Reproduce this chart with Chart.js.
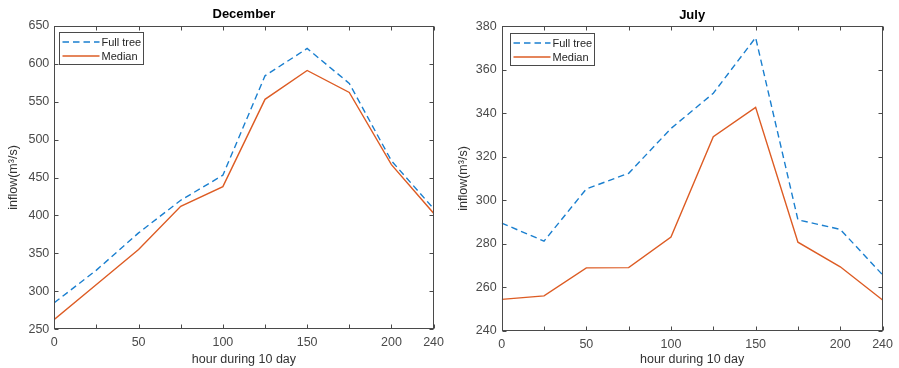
<!DOCTYPE html>
<html>
<head>
<meta charset="utf-8">
<script src="https://cdn.jsdelivr.net/npm/chart.js@4"></script>
<style>
  html, body { margin: 0; padding: 0; background: #fff; }
  #wrap { position: relative; width: 899px; height: 368px; }
  canvas { position: absolute; top: 0; }
</style>
</head>
<body>
<div id="wrap">
  <canvas id="decChart" width="450" height="368" style="left:0"></canvas>
  <canvas id="julChart" width="449" height="368" style="left:450px"></canvas>
</div>
<script>
// hours at each point; last one is labelled "240" on the axis
const hours = [0, 25, 50, 75, 100, 125, 150, 175, 200, 225];
const hourTickLabels = ["0", "", "50", "", "100", "", "150", "", "200", "240"];
const seriesNames = ["Full tree", "Median"];

const decFullTree = [285, 328, 377, 420, 453, 584, 620, 574, 472, 409];
const decMedian = [263, 309, 355, 412, 438, 553, 591, 562, 467, 403];

const julFullTree = [289.5, 281.2, 305.2, 312.4, 333, 349.2, 374.8, 291, 286.6, 265.7];
const julMedian = [254.4, 256, 268.9, 269, 283.1, 329.2, 342.7, 280.7, 269.4, 254.1];

const FONT = "'Liberation Sans', Arial, Helvetica, sans-serif";
const AXIS_COLOR = "#4a4a4a";
const BLUE = "#1a7fcf";
const ORANGE = "#dd5c24";

// box around the axes with inward tick marks on all four sides, plus boxed legend
const matlabAxesPlugin = {
  id: "matlabAxes",
  afterDatasetsDraw(chart, args, opts) {
    const { ctx, chartArea: a, scales } = chart;
    const L = Math.round(a.left) + 0.5;
    const R = Math.round(a.right) - 0.5;
    const T = Math.round(a.top) + 0.5;
    const B = Math.round(a.bottom) - 0.5;
    ctx.save();
    ctx.strokeStyle = AXIS_COLOR;
    ctx.lineWidth = 1;
    ctx.beginPath();
    scales.x.ticks.forEach((t) => {
      const px = Math.round(scales.x.getPixelForValue(t.value)) + 0.5;
      ctx.moveTo(px, B); ctx.lineTo(px, B - 4);
      ctx.moveTo(px, T); ctx.lineTo(px, T + 4);
    });
    scales.y.ticks.forEach((t) => {
      const py = Math.round(scales.y.getPixelForValue(t.value)) + 0.5;
      ctx.moveTo(L, py); ctx.lineTo(L + 4, py);
      ctx.moveTo(R, py); ctx.lineTo(R - 4, py);
    });
    ctx.stroke();
    ctx.strokeRect(L, T, R - L, B - T);

    // legend
    const lx = Math.round(a.left + opts.dx) + 0.5;
    const ly = Math.round(a.top + opts.dy) + 0.5;
    const lw = 84, lh = 32;
    ctx.fillStyle = "#fff";
    ctx.fillRect(lx, ly, lw, lh);
    ctx.strokeStyle = AXIS_COLOR;
    ctx.setLineDash([]);
    ctx.strokeRect(lx, ly, lw, lh);
    ctx.font = "11px " + FONT;
    ctx.textBaseline = "middle";
    ctx.textAlign = "left";
    chart.data.datasets.forEach((ds, i) => {
      const cy = ly + 9.5 + i * 14;
      ctx.strokeStyle = ds.borderColor;
      ctx.lineWidth = ds.borderWidth;
      ctx.setLineDash(ds.borderDash || []);
      ctx.beginPath();
      ctx.moveTo(lx + 3, cy);
      ctx.lineTo(lx + 40, cy);
      ctx.stroke();
      ctx.fillStyle = "#262626";
      ctx.fillText(ds.label, lx + 42, cy + 0.5);
    });
    ctx.restore();
  },
};

function createInflowChart(canvasId, title, fullTree, median, yRange, lay) {
  const ctx = document.getElementById(canvasId).getContext("2d");
  const toPoints = (vals) => vals.map((v, i) => ({ x: hours[i], y: v }));

  return new Chart(ctx, {
    type: "line",
    data: {
      datasets: [
        {
          label: seriesNames[0],
          data: toPoints(fullTree),
          borderColor: BLUE,
          borderWidth: 1.4,
          borderDash: [6.5, 4],
          pointRadius: 0,
          tension: 0,
        },
        {
          label: seriesNames[1],
          data: toPoints(median),
          borderColor: ORANGE,
          borderWidth: 1.4,
          pointRadius: 0,
          tension: 0,
        },
      ],
    },
    options: {
      responsive: false,
      animation: false,
      layout: { padding: { left: 0, right: lay.padRight, top: 0, bottom: 0 } },
      plugins: {
        legend: { display: false },
        tooltip: { enabled: false },
        title: {
          display: true,
          text: title,
          fullSize: false,
          color: "#000",
          font: { family: FONT, size: 13, weight: "bold" },
          padding: lay.titlePad,
        },
        matlabAxes: { dx: lay.legendDx, dy: 6.3 },
      },
      scales: {
        x: {
          type: "linear",
          min: 0,
          max: 225,
          afterBuildTicks: (scale) => {
            scale.ticks = hours.map((h) => ({ value: h }));
          },
          afterFit: (scale) => { scale.height = lay.xHeight; },
          grid: { display: false, drawTicks: false },
          border: { display: false },
          ticks: {
            autoSkip: false,
            maxRotation: 0,
            padding: 6,
            color: AXIS_COLOR,
            font: { family: FONT, size: 12.5 },
            callback: (value, index) => hourTickLabels[index],
          },
          title: {
            display: true,
            text: "hour during 10 day",
            color: "#333",
            font: { family: FONT, size: 12.5 },
            padding: { top: 0, bottom: 1 },
          },
        },
        y: {
          min: yRange[0],
          max: yRange[1],
          afterFit: (scale) => { scale.width = lay.yWidth; },
          grid: { display: false, drawTicks: false },
          border: { display: false },
          ticks: {
            stepSize: yRange[2],
            padding: 5,
            color: AXIS_COLOR,
            font: { family: FONT, size: 12.5 },
          },
          title: {
            display: true,
            text: "inflow(m³/s)",
            color: "#333",
            font: { family: FONT, size: 12.5 },
            padding: { top: 6, bottom: 0 },
          },
        },
      },
    },
    plugins: [matlabAxesPlugin],
  });
}

createInflowChart("decChart", "December", decFullTree, decMedian, [250, 650, 50], {
  yWidth: 54.3, xHeight: 38.7, padRight: 10.7,
  titlePad: { top: 6.9, bottom: 3.2 }, legendDx: 4.4,
});
createInflowChart("julChart", "July", julFullTree, julMedian, [240, 380, 20], {
  yWidth: 51.7, xHeight: 37.3, padRight: 11.7,
  titlePad: { top: 7.3, bottom: 3.4 }, legendDx: 8.6,
});
</script>
</body>
</html>
